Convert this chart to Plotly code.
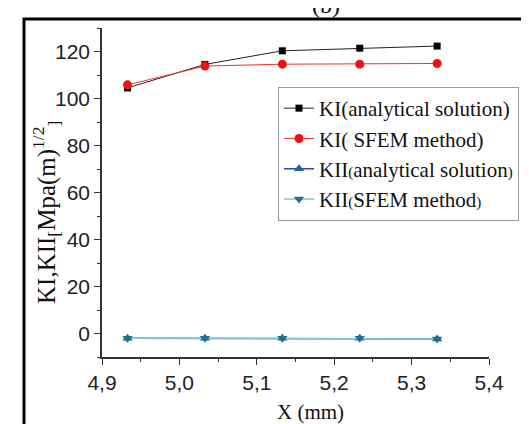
import plotly.graph_objects as go

x_mm = [4.933, 5.033, 5.133, 5.233, 5.333]
ki_analytical = [104.5, 114.5, 120.3, 121.4, 122.3]
ki_sfem = [105.8, 113.8, 114.6, 114.6, 114.9]
kii_analytical = [-2.0, -2.0, -2.0, -2.0, -2.3]
kii_sfem = [-2.0, -2.0, -2.0, -2.0, -2.3]

small_l = '<span style="font-size:15px">(</span>'
small_r = '<span style="font-size:15px">)</span>'
names = ["KI(analytical solution)", "KI( SFEM method)",
         "KII" + small_l + "analytical solution" + small_r,
         "KII" + small_l + "SFEM method" + small_r]

fig = go.Figure()
fig.add_trace(go.Scatter(x=x_mm, y=ki_analytical, name=names[0], mode="lines+markers",
                         line=dict(color="#222222", width=1),
                         marker=dict(symbol="square", size=7, color="#000000")))
fig.add_trace(go.Scatter(x=x_mm, y=ki_sfem, name=names[1], mode="lines+markers",
                         line=dict(color="#ee3333", width=1),
                         marker=dict(symbol="circle", size=9, color="#ee1111")))
fig.add_trace(go.Scatter(x=x_mm, y=kii_analytical, name=names[2], mode="lines+markers",
                         line=dict(color="#3344bb", width=1.5),
                         marker=dict(symbol="triangle-up", size=9, color="#1f5f9f")))
fig.add_trace(go.Scatter(x=x_mm, y=kii_sfem, name=names[3], mode="lines+markers",
                         line=dict(color="#7cc8dc", width=1.5),
                         marker=dict(symbol="triangle-down", size=9, color="#1f6f8f")))

L, R, T, B = 94, 48, 20, 75
W, H = 529, 424
pw, ph = W - L - R, H - T - B

def px_x(p):
    return (p - L) / pw

def px_y(p):
    return (H - B - p) / ph

axis_common = dict(showline=True, linecolor="#333333", linewidth=1.5, showgrid=False,
                   zeroline=False, ticks="outside", ticklen=6, tickwidth=1.2,
                   tickcolor="#333333",
                   tickfont=dict(family="Liberation Sans, Arial, sans-serif", size=21,
                                 color="#222222"),
                   minor=dict(ticks="outside", ticklen=3, tickwidth=1, tickcolor="#333333"))

fig.update_xaxes(range=[4.9, 5.4], dtick=0.1, tick0=4.9, tickformat=".1f",
                 minor_dtick=0.05, **axis_common)
fig.update_yaxes(range=[-10, 130], dtick=20, tick0=0, minor_dtick=10, **axis_common)

fig.update_layout(
    width=W, height=H,
    margin=dict(l=L, r=R, t=T, b=B, autoexpand=False),
    paper_bgcolor="white", plot_bgcolor="white",
    separators=",.",
    showlegend=True,
    legend=dict(x=px_x(270), y=px_y(79), xanchor="left", yanchor="top",
                bgcolor="white", bordercolor="#999999", borderwidth=1,
                font=dict(family="Liberation Serif, Times New Roman, serif", size=21,
                          color="#111111"),
                itemwidth=30, tracegroupgap=0),
    shapes=[dict(type="rect", xref="paper", yref="paper",
                 x0=px_x(16), x1=px_x(560), y0=px_y(470), y1=px_y(11),
                 line=dict(color="black", width=3), fillcolor="rgba(0,0,0,0)", layer="above")],
    annotations=[
        dict(text="(b)", xref="paper", yref="paper", x=px_x(318), y=px_y(12),
             xanchor="center", yanchor="bottom", showarrow=False,
             font=dict(family="Liberation Serif, Times New Roman, serif", size=24, color="#111111")),
        dict(text="X (mm)", xref="paper", yref="paper", x=px_x(302), y=px_y(404),
             xanchor="center", yanchor="middle", showarrow=False,
             font=dict(family="Liberation Serif, Times New Roman, serif", size=21, color="#111111")),
        dict(text="KI,KII<sub>[</sub>Mpa(m)<sup>1/2</sup><sub>]</sub>", xref="paper", yref="paper",
             x=px_x(38), y=px_y(205), xanchor="center", yanchor="middle", textangle=-90,
             showarrow=False,
             font=dict(family="Liberation Serif, Times New Roman, serif", size=25, color="#111111")),
    ],
)

fig.write_html("out.html")
